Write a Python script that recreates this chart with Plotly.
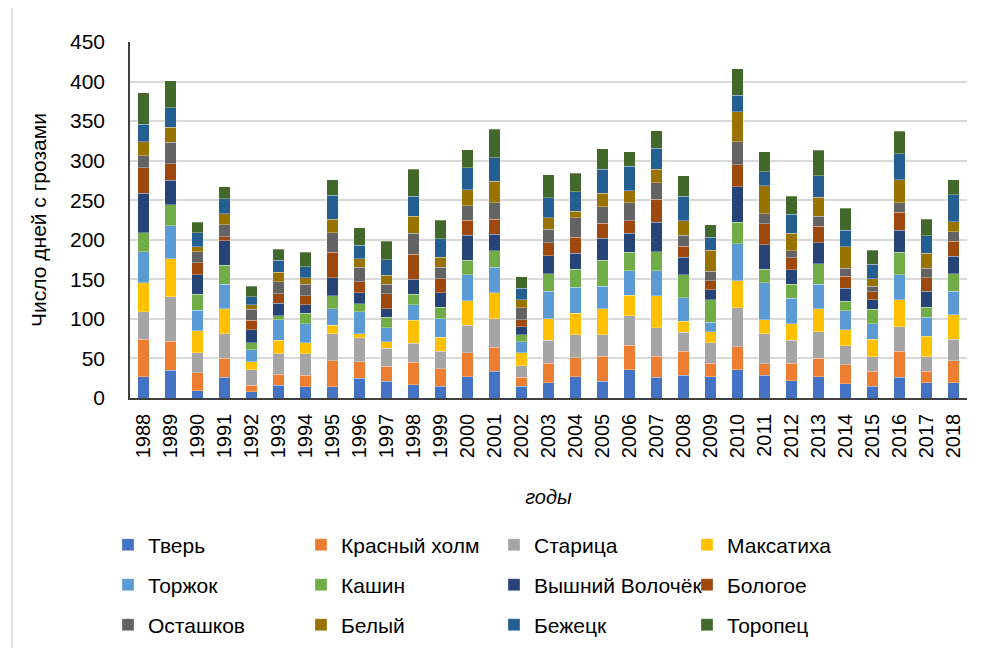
import plotly.graph_objects as go

# years on the x axis
YEARS = ['1988', '1989', '1990', '1991', '1992', '1993', '1994', '1995', '1996', '1997',
         '1998', '1999', '2000', '2001', '2002', '2003', '2004', '2005', '2006', '2007',
         '2008', '2009', '2010', '2011', '2012', '2013', '2014', '2015', '2016', '2017', '2018']

# days with thunderstorms, per station
tver = [27, 35, 9, 26, 8, 16, 14, 14, 25, 21, 17, 15, 27, 34, 15, 19, 27, 21, 36, 26, 29, 27, 36, 29, 22, 27, 18, 15, 26, 19, 19]
krasny_holm = [47, 37, 23, 24, 8, 14, 15, 33, 21, 19, 28, 22, 30, 30, 11, 25, 24, 32, 31, 27, 30, 17, 29, 14, 22, 23, 24, 19, 33, 15, 28]
staritsa = [35, 56, 25, 31, 20, 26, 27, 34, 30, 23, 24, 22, 35, 36, 15, 29, 29, 27, 37, 36, 24, 26, 49, 38, 29, 34, 24, 18, 31, 18, 27]
maksatikha = [37, 48, 28, 32, 10, 17, 14, 11, 5, 8, 29, 18, 31, 33, 16, 27, 27, 33, 26, 40, 14, 14, 34, 18, 21, 29, 20, 22, 34, 26, 31]
torzhok = [39, 42, 26, 31, 15, 26, 24, 21, 28, 18, 20, 23, 33, 32, 14, 35, 33, 28, 31, 32, 30, 12, 47, 47, 32, 31, 24, 20, 32, 24, 30]
kashin = [24, 26, 20, 24, 9, 5, 13, 16, 10, 13, 13, 15, 18, 21, 9, 22, 23, 33, 23, 24, 29, 28, 27, 17, 18, 26, 12, 18, 28, 13, 22]
vyshny_volochek = [50, 31, 25, 31, 16, 16, 11, 23, 14, 11, 19, 18, 32, 21, 10, 23, 20, 28, 24, 37, 22, 13, 45, 31, 18, 26, 17, 12, 28, 20, 22]
bologoe = [32, 21, 15, 5, 12, 12, 11, 32, 14, 19, 32, 18, 19, 19, 9, 16, 20, 19, 16, 29, 14, 11, 28, 26, 15, 21, 15, 10, 23, 17, 19]
ostashkov = [15, 27, 14, 15, 14, 15, 15, 25, 18, 12, 26, 14, 18, 21, 15, 17, 25, 21, 23, 21, 14, 12, 29, 13, 9, 13, 10, 7, 12, 12, 12]
bely = [18, 19, 6, 14, 6, 12, 8, 17, 11, 11, 22, 13, 20, 27, 10, 15, 8, 17, 15, 17, 18, 27, 38, 35, 22, 24, 27, 10, 29, 19, 13]
bezhetsk = [22, 25, 18, 19, 10, 15, 14, 30, 17, 20, 25, 23, 28, 30, 15, 25, 25, 30, 31, 27, 31, 16, 21, 18, 24, 27, 21, 18, 33, 22, 34]
toropets = [40, 34, 13, 15, 13, 14, 18, 20, 22, 23, 34, 24, 23, 36, 14, 29, 23, 26, 18, 22, 26, 16, 33, 25, 23, 32, 28, 18, 28, 21, 19]

SERIES = [
    ('Тверь', tver, '#4472C4'),
    ('Красный холм', krasny_holm, '#ED7D31'),
    ('Старица', staritsa, '#A5A5A5'),
    ('Максатиха', maksatikha, '#FFC000'),
    ('Торжок', torzhok, '#5B9BD5'),
    ('Кашин', kashin, '#70AD47'),
    ('Вышний Волочёк', vyshny_volochek, '#264478'),
    ('Бологое', bologoe, '#9E480E'),
    ('Осташков', ostashkov, '#636363'),
    ('Белый', bely, '#997300'),
    ('Бежецк', bezhetsk, '#255E91'),
    ('Торопец', toropets, '#43682B'),
]

FONT = 'Arial, Liberation Sans, sans-serif'

# the page body has a default 8px margin, so the figure is a bit smaller
PAGE_OFF = 8
W, H = 985 - PAGE_OFF, 648 - PAGE_OFF
# plot area, in page pixels: x 130..967, y 41.7..398.3
L = 130 - PAGE_OFF
T = 42 - PAGE_OFF
R = 985 - 967
B = 648 - 398
PW = W - L - R
PH = H - T - B


def py_to_paper(page_y):
    return (H - B - (page_y - PAGE_OFF)) / PH


def px_to_paper(page_x):
    return (page_x - PAGE_OFF - L) / PW


fig = go.Figure()
legends = ['legend', 'legend2', 'legend3']
for i, (name, vals, color) in enumerate(SERIES):
    fig.add_trace(go.Bar(
        x=YEARS, y=vals, name=name,
        marker=dict(color=color, line=dict(color='rgba(255,255,255,0.5)', width=0.6)),
        legend=legends[i // 4],
    ))

legend_common = dict(
    orientation='h', xanchor='left', yanchor='middle', x=px_to_paper(108),
    entrywidth=148, entrywidthmode='pixels', itemwidth=30,
    font=dict(family=FONT, size=21, color='#000000'),
    bgcolor='rgba(0,0,0,0)', traceorder='normal',
)

fig.update_layout(
    width=W, height=H,
    barmode='stack', bargap=0.58,
    plot_bgcolor='white', paper_bgcolor='white',
    margin=dict(l=L, r=R, t=T, b=B, autoexpand=False),
    font=dict(family=FONT, size=20, color='#000000'),
    legend=dict(legend_common, y=py_to_paper(545)),
    legend2=dict(legend_common, y=py_to_paper(585)),
    legend3=dict(legend_common, y=py_to_paper(625)),
    xaxis=dict(
        tickangle=-90, tickfont=dict(size=20), ticklabelstandoff=6,
        showline=True, linecolor='#404040', linewidth=1.5,
        title=dict(text='годы', font=dict(size=20, style='italic'), standoff=33),
    ),
    yaxis=dict(
        range=[0, 450], dtick=50, tickfont=dict(size=21),
        showgrid=True, gridcolor='#D9D9D9', gridwidth=1.5,
        showline=True, linecolor='#404040', linewidth=1.5,
        ticklabelstandoff=19, zeroline=False,
        title=dict(text='Число дней с грозами', font=dict(size=21), standoff=18),
    ),
    shapes=[dict(type='line', xref='paper', yref='paper',
                 x0=px_to_paper(12), x1=px_to_paper(12),
                 y0=py_to_paper(0), y1=py_to_paper(648),
                 line=dict(color='#D9D9D9', width=1.5))],
)

fig.write_html("out.html")
